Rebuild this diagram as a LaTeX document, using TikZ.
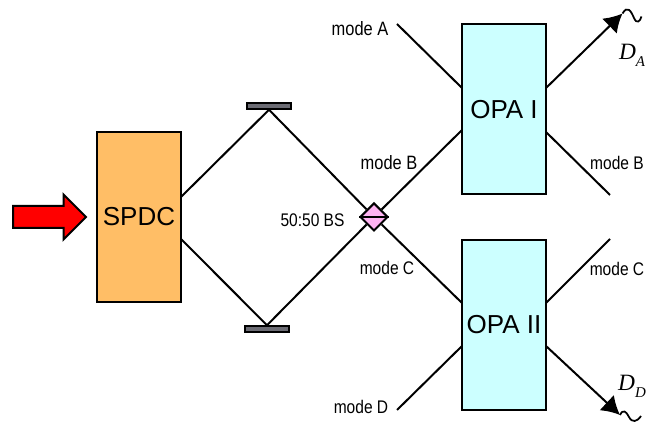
\documentclass[tikz,border=0pt]{standalone}
\usepackage{amsmath}
\usepackage{fontspec}
\setmainfont{Liberation Sans}
\newfontfamily\modefont[FakeStretch=0.85]{Liberation Sans}
\newfontfamily\detfont{Liberation Serif}
\usepackage{tikz}
\usetikzlibrary{arrows.meta}
\usetikzlibrary{shapes.geometric,shapes.arrows}
\definecolor{spdcorange}{HTML}{FFBE66}
\definecolor{opacyan}{HTML}{CCFFFF}
\definecolor{bspink}{HTML}{FFB3F2}
\definecolor{mirrorgray}{HTML}{6C6C74}

\newcommand{\detname}[2]{{\detfont\itshape #1\raisebox{-0.14cm}{\fontsize{8.5}{9}\selectfont #2}}}

\begin{document}
\begin{tikzpicture}[line width=0.04cm]
  \tikzset{crystal/.style = {shape=rectangle,draw,minimum width=1.68cm,minimum height=3.4cm,inner sep=0pt,font=\fontsize{14.8}{16}\selectfont}}
  \tikzset{mirror/.style = {shape=rectangle,draw,fill=mirrorgray,minimum width=0.88cm,minimum height=0.12cm,inner sep=0pt,line width=0.03cm}}
  \tikzset{splitter/.style = {shape=diamond,draw,fill=bspink,aspect=1,minimum width=0.56cm,minimum height=0.56cm,inner sep=0pt}}
  \tikzset{modelabel/.style = {font=\modefont\fontsize{10.4}{12}\selectfont,inner sep=0pt}}
  \tikzset{widelabel/.style = {font=\modefont\fontsize{11}{12}\selectfont,inner sep=0pt}}
  \tikzset{detlabel/.style = {font=\fontsize{13.3}{14}\selectfont,inner sep=0pt}}
  \tikzset{%
  tipA/.tip={Latex[length=0.36cm,width=0.42cm]},
}
  \useasboundingbox (0,0) rectangle (13.1,8.52);

	\node[crystal,fill=spdcorange] (SPDC) at (2.78,4.18) {SPDC};
	\node[crystal,fill=opacyan] (OPAI) at (10.08,6.33) {OPA I};
	\node[crystal,fill=opacyan] (OPAII) at (10.08,2.02) {OPA II};

	\node[mirror] (MT) at (5.38,6.40) {};
	\node[mirror] (MB) at (5.34,1.94) {};
	\node[splitter] (BS) at (7.48,4.18) {};

	\node[shape=single arrow,draw,fill=red,minimum height=1.46cm,inner sep=0.2cm,single arrow head extend=0.23cm,anchor=west] (PUMP) at (0.24,4.18) {};

	% ends of the beams
	\coordinate (S1) at (3.62,4.58);
	\coordinate (S2) at (3.62,3.74);
	\coordinate (IB) at (9.24,5.92);
	\coordinate (IC) at (9.24,2.46);
	\coordinate (A0) at (7.94,8.04);
	\coordinate (A1) at (9.24,6.76);
	\coordinate (D0) at (7.94,0.32);
	\coordinate (D1) at (9.24,1.60);
	\coordinate (OA) at (10.92,6.76);
	\coordinate (OB) at (10.92,5.88);
	\coordinate (OC) at (10.92,2.46);
	\coordinate (OD) at (10.92,1.60);
	\coordinate (EB) at (12.2,4.62);
	\coordinate (EC) at (12.2,3.74);
	\coordinate (DA) at (12.45,8.25);
	\coordinate (DD) at (12.4,0.22);

    \foreach \from/\to in {S1/MT.south,S2/MB.north,MT.south/BS,MB.north/BS,BS/IB,BS/IC,A0/A1,D0/D1,OB/EB,OC/EC}
    \draw (\from) -- (\to);

    \foreach \from/\to in {OA/DA,OD/DD}
    \draw[-tipA] (\from) -- (\to);

	\draw[line width=0.035cm] (DA) .. controls (12.55,8.42) and (12.62,8.3) .. (12.68,8.16) .. controls (12.73,8.04) and (12.8,8.08) .. (12.83,8.19);
	\draw[line width=0.035cm] (DD) .. controls (12.46,0.34) and (12.52,0.3) .. (12.58,0.18) .. controls (12.64,0.06) and (12.74,0.08) .. (12.82,0.2);

	\draw (BS.west) -- (BS.east);

	\node[widelabel] (LA) at (7.2,7.94) {mode A};
	\node[widelabel] (LB) at (7.78,5.26) {mode B};
	\node[modelabel] (LC) at (7.74,3.16) {mode C};
	\node[modelabel] (LD) at (7.22,0.38) {mode D};
	\node[modelabel] (RB) at (12.34,5.26) {mode B};
	\node[modelabel] (RC) at (12.34,3.14) {mode C};
	\node[modelabel] (LBS) at (6.25,4.12) {50:50 BS};
	\node[detlabel] (TA) at (12.64,7.42) {\detname{D}{A}};
	\node[detlabel] (TD) at (12.64,0.8) {\detname{D}{D}};

\end{tikzpicture}
\end{document}
